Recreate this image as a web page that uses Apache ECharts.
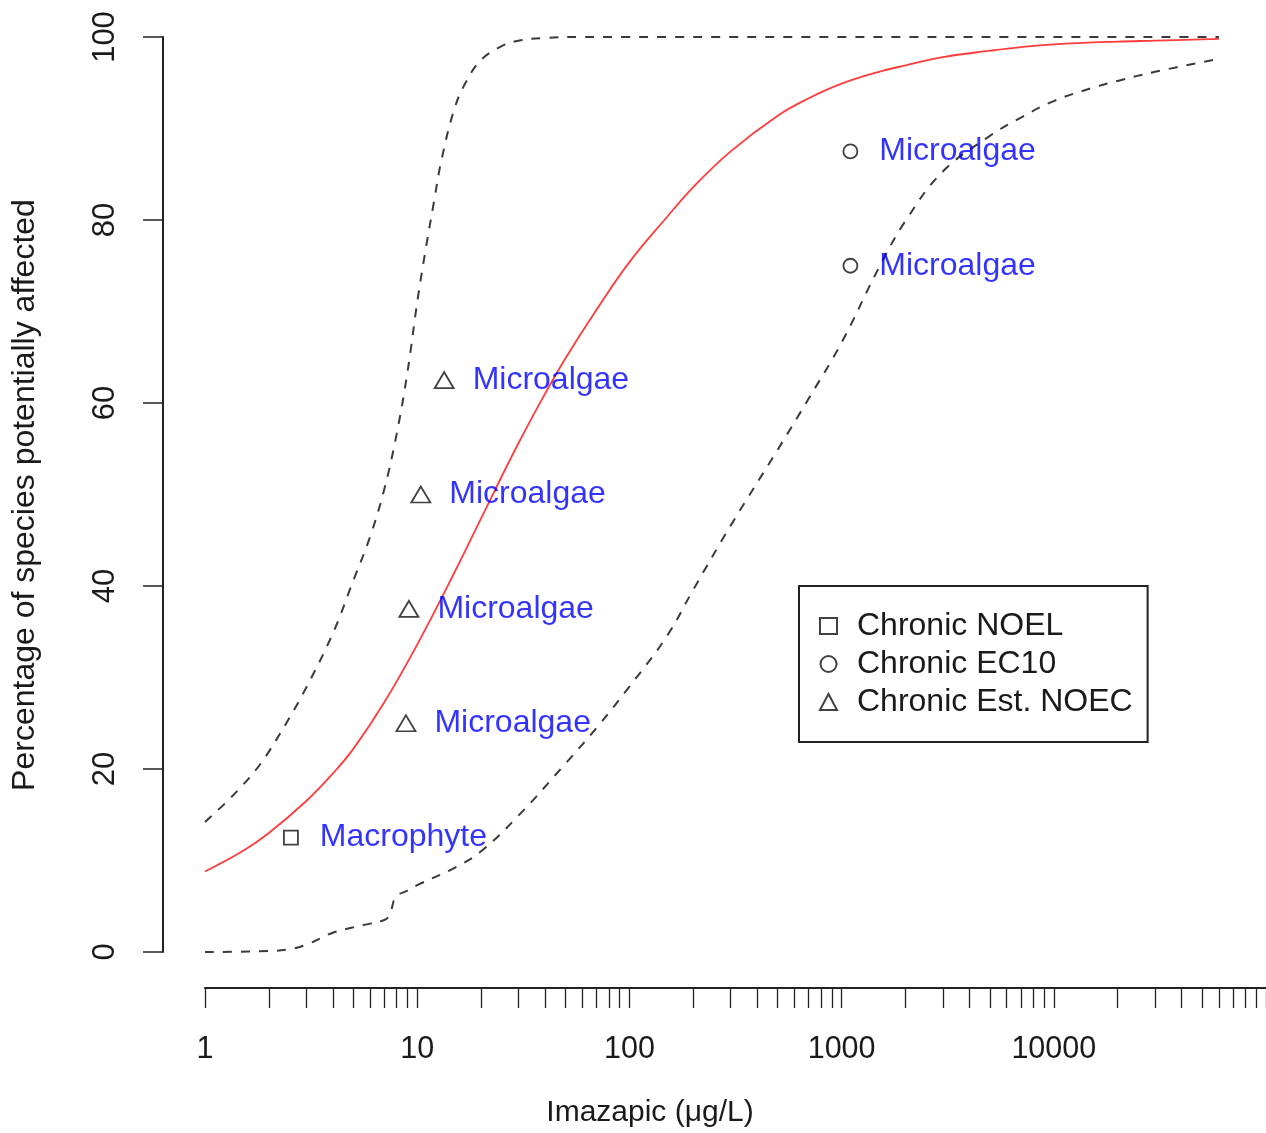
<!DOCTYPE html>
<html><head><meta charset="utf-8">
<script src="https://cdn.jsdelivr.net/npm/echarts@6/dist/echarts.min.js"></script>
<style>html,body{margin:0;padding:0;background:#fff}#c{width:1266px;height:1133px}</style>
</head><body><div id="c"></div>
<script>
const xTitle = 'Imazapic (μg/L)';
const yTitle = 'Percentage of species potentially affected';
const xLabelValues = [1, 10, 100, 1000, 10000];
const xTickValues = [1,2,3,4,5,6,7,8,9,10,20,30,40,50,60,70,80,90,100,200,300,400,500,600,700,800,900,
  1000,2000,3000,4000,5000,6000,7000,8000,9000,10000,20000,30000,40000,50000,60000,70000,80000,90000,100000];
const yTickValues = [0, 20, 40, 60, 80, 100];

// fitted SSD curve (red)
const fitX = [1,1.5,2,3,4,5,7,10,15,20,30,40,50,70,100,150,200,300,500,700,1000,1500,2000,3000,5000,7000,10000,20000,30000,60000];
const fitY = [8.8,11.0,13.0,16.5,19.5,22.2,27.3,33.6,41.5,47.4,55.6,61.0,64.9,70.2,75.4,80.3,83.6,87.5,91.4,93.3,94.9,96.2,96.9,97.8,98.5,98.9,99.2,99.5,99.6,99.8];
// upper confidence bound (dashed)
const upperX = [1,1.25,1.5,1.75,2,2.5,3,4,5,6,7,8,9,10,11,12,13,15,17,20,25,30,40,60,60000];
const upperY = [14.2,16.3,18.2,20.0,21.9,25.6,28.9,34.8,40.6,45.4,50.6,56.6,63.4,71.0,77.0,82.0,86.5,92.2,95.1,97.5,99.0,99.6,99.9,100,100];
// lower confidence bound (dashed)
const lowerX = [1,2,2.5,3,3.5,4,5,6,7,7.4,7.8,8,9,10,15,20,30,50,70,100,150,200,300,500,700,1000,1500,2000,3000,5000,7000,10000,15000,20000,30000,60000];
const lowerY = [0,0.1,0.3,0.8,1.5,2.1,2.7,3.1,3.5,4.0,5.8,6.2,6.7,7.3,9.2,11.0,14.9,20.6,24.5,29.0,34.5,39.6,46.6,54.9,60.5,66.6,74.8,79.9,85.3,89.2,91.2,93.0,94.4,95.2,96.2,97.6];

// observed species data
const noelX = [2.54], noelY = [12.5], noelNames = ['Macrophyte'];
const ec10X = [1100, 1100], ec10Y = [87.5, 75], ec10Names = ['Microalgae', 'Microalgae'];
const estX = [8.85, 9.14, 10.4, 13.4], estY = [25, 37.5, 50, 62.5], estNames = ['Microalgae','Microalgae','Microalgae','Microalgae'];

const FONT = "'Liberation Sans', Arial, sans-serif";
const TXT = '#1a1a1a';

function pairs(xs, ys) { return xs.map((x, i) => [x, ys[i]]); }

function pointSeries(name, symbol, size, xs, ys, names, dist) {
  return {
    type: 'scatter', name: name, symbol: symbol, symbolSize: size,
    data: pairs(xs, ys), z: 5,
    itemStyle: { color: 'rgba(255,255,255,0)', borderColor: '#111', borderWidth: 1.8 },
    label: { show: true, position: 'right', distance: dist, color: '#0000ff',
      fontSize: 32, fontFamily: FONT, formatter: p => names[p.dataIndex] },
    emphasis: { disabled: true }
  };
}

const chart = echarts.init(document.getElementById('c'), null, { renderer: 'canvas' });
chart.setOption({
  animation: false,
  backgroundColor: '#fff',
  grid: { left: 205, right: 0, top: 37, bottom: 181, containLabel: false },
  xAxis: {
    type: 'log', logBase: 10, min: 1, max: 100000, offset: 36,
    axisLine: { show: true, onZero: false, lineStyle: { color: '#222', width: 2 } },
    axisTick: { show: true, inside: false, length: 20, customValues: xTickValues, lineStyle: { color: '#222', width: 1.3 } },
    axisLabel: { show: true, customValues: xLabelValues, margin: 46, fontSize: 30.5, fontFamily: FONT, color: TXT,
      formatter: v => String(v) },
    splitLine: { show: false }, minorTick: { show: false }
  },
  yAxis: {
    type: 'value', min: 0, max: 100, interval: 20, offset: 42,
    axisLine: { show: true, onZero: false, lineStyle: { color: '#222', width: 2 } },
    axisTick: { show: true, length: 20, lineStyle: { color: '#222', width: 1.5 } },
    axisLabel: { show: true, rotate: 90, margin: 42, fontSize: 31, fontFamily: FONT, color: TXT },
    splitLine: { show: false }
  },
  legend: {
    show: true, orient: 'vertical', left: 799, top: 586,
    data: ['Chronic NOEL', 'Chronic EC10', 'Chronic Est. NOEC'],
    selectedMode: false, itemWidth: 17, itemHeight: 16, itemGap: 6,
    padding: [24, 15, 24, 20],
    borderColor: '#222', borderWidth: 2, backgroundColor: '#fff',
    textStyle: { fontSize: 32, lineHeight: 30, fontFamily: FONT, color: TXT, padding: [0, 0, 0, 15] }
  },
  graphic: [
    { type: 'text', x: 650, y: 1113, style: { text: xTitle, fontSize: 30, fontFamily: FONT, fill: TXT, textAlign: 'center', textVerticalAlign: 'middle' } },
    { type: 'text', x: 25, y: 495, rotation: Math.PI / 2, style: { text: yTitle, fontSize: 32, fontFamily: FONT, fill: TXT, textAlign: 'center', textVerticalAlign: 'middle' } }
  ],
  series: [
    { type: 'line', name: 'lower', data: pairs(lowerX, lowerY), showSymbol: false, smooth: 0.4,
      lineStyle: { color: '#3a3a3a', width: 2, type: [9, 9] }, z: 2, silent: true },
    { type: 'line', name: 'upper', data: pairs(upperX, upperY), showSymbol: false, smooth: 0.4,
      lineStyle: { color: '#3a3a3a', width: 2, type: [9, 9] }, z: 2, silent: true },
    { type: 'line', name: 'fit', data: pairs(fitX, fitY), showSymbol: false, smooth: 0.4,
      lineStyle: { color: '#ff3b3b', width: 1.8 }, z: 3, silent: true },
    pointSeries('Chronic NOEL', 'rect', 14, noelX, noelY, noelNames, 21),
    pointSeries('Chronic EC10', 'circle', 14, ec10X, ec10Y, ec10Names, 21),
    pointSeries('Chronic Est. NOEC', 'triangle', [19, 16], estX, estY, estNames, 18)
  ]
});
</script></body></html>
